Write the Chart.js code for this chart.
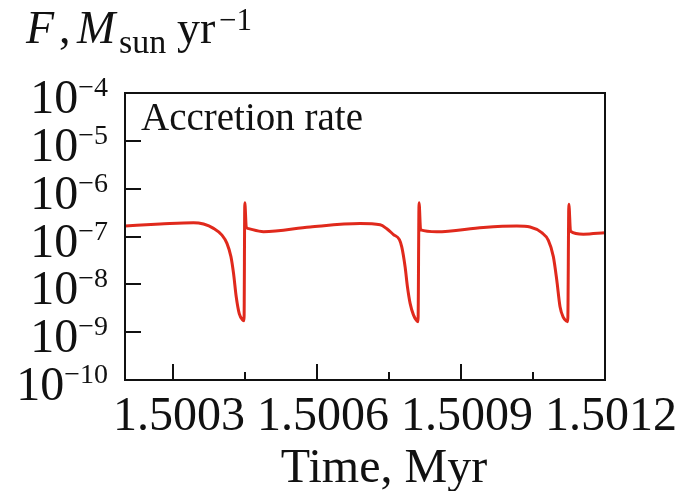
<!DOCTYPE html>
<html>
<head>
<meta charset="utf-8">
<script src="https://cdn.jsdelivr.net/npm/chart.js@4"></script>
<style>
  html, body { margin: 0; padding: 0; background: #fff; }
</style>
</head>
<body>
<canvas id="rateChart" width="681" height="491"></canvas>
<script>
// Time in Myr
const timeMyr = [
    1.5002000, 1.5002735, 1.5003428, 1.5003637, 1.5003845, 1.5004020, 1.5004124, 1.5004207,
    1.5004261, 1.5004317, 1.5004380, 1.5004457, 1.5004480, 1.5004496, 1.5004526, 1.5004553,
    1.5004886, 1.5005858, 1.5006899, 1.5007316, 1.5007455, 1.5007593, 1.5007717, 1.5007767,
    1.5007836, 1.5007884, 1.5007940, 1.5008009, 1.5008076, 1.5008105, 1.5008126, 1.5008159,
    1.5008496, 1.5009466, 1.5010162, 1.5010439, 1.5010682, 1.5010820, 1.5010924, 1.5010995,
    1.5011063, 1.5011132, 1.5011199, 1.5011224, 1.5011247, 1.5011282, 1.5011549, 1.5012000
];

// Accretion rate, Msun/yr
const accretionRate = [
    1.66e-7, 1.82e-7, 1.95e-7, 1.82e-7, 1.48e-7, 1.07e-7, 7.2e-8, 3.8e-8,
    1.7e-8, 5.5e-9, 2.45e-9, 1.78e-9, 1.74e-9, 5.1e-7, 1.58e-7, 1.48e-7,
    1.26e-7, 1.58e-7, 1.86e-7, 1.76e-7, 1.45e-7, 1.10e-7, 8.6e-8, 6.0e-8,
    2.3e-8, 8.9e-9, 4.0e-9, 2.3e-9, 1.74e-9, 1.66e-9, 5.1e-7, 1.38e-7,
    1.26e-7, 1.55e-7, 1.66e-7, 1.58e-7, 1.20e-7, 8.3e-8, 3.8e-8, 1.23e-8,
    3.4e-9, 2.04e-9, 1.70e-9, 1.66e-9, 4.7e-7, 1.29e-7, 1.12e-7, 1.20e-7
];

// Axis ticks
const xMajorTicks = [1.5003, 1.5006, 1.5009, 1.5012];
const xTickLabels = ['1.5003', '1.5006', '1.5009', '1.5012'];
const xMinorTicks = [1.50045, 1.50075, 1.50105];
const yTickExponents = [-4, -5, -6, -7, -8, -9, -10];

const SERIF = "'Liberation Serif', 'DejaVu Serif', serif";
const INK = '#111';

// draws "10" with a raised exponent, right aligned at xRight
function drawPower(ctx, exp, xRight, baseline) {
    const sup = '\u2212' + Math.abs(exp);
    ctx.font = '28px ' + SERIF;
    const supW = ctx.measureText(sup).width;
    ctx.font = '48px ' + SERIF;
    const baseW = ctx.measureText('10').width;
    ctx.textAlign = 'left';
    ctx.fillText('10', xRight - supW - baseW, baseline);
    ctx.font = '28px ' + SERIF;
    ctx.fillText(sup, xRight - supW, baseline - 17);
}

const framePlugin = {
    id: 'framePlugin',
    afterDraw(chart) {
        const ctx = chart.ctx;
        const area = chart.chartArea;
        const xs = chart.scales.x;
        const ys = chart.scales.y;

        ctx.save();
        ctx.strokeStyle = INK;
        ctx.lineWidth = 2;
        ctx.strokeRect(area.left, area.top, area.right - area.left, area.bottom - area.top);

        // inward ticks
        ctx.beginPath();
        yTickExponents.forEach(e => {
            if (e === -4 || e === -10) return;
            const y = Math.round(ys.getPixelForValue(Math.pow(10, e)));
            ctx.moveTo(area.left, y);
            ctx.lineTo(area.left + 16, y);
        });
        xMajorTicks.forEach(v => {
            const x = Math.round(xs.getPixelForValue(v));
            ctx.moveTo(x, area.bottom);
            ctx.lineTo(x, area.bottom - 16);
        });
        xMinorTicks.forEach(v => {
            const x = Math.round(xs.getPixelForValue(v));
            ctx.moveTo(x, area.bottom);
            ctx.lineTo(x, area.bottom - 8);
        });
        ctx.stroke();

        ctx.fillStyle = INK;
        ctx.textBaseline = 'alphabetic';

        // y tick labels
        yTickExponents.forEach(e => {
            const y = ys.getPixelForValue(Math.pow(10, e));
            drawPower(ctx, e, 108, y + 20);
        });

        // x tick labels
        ctx.font = '48px ' + SERIF;
        ctx.textAlign = 'center';
        xMajorTicks.forEach((v, i) => {
            ctx.fillText(xTickLabels[i], xs.getPixelForValue(v) + 6, 430);
        });

        // x axis title
        ctx.fillText('Time, Myr', 384, 482);

        // panel label
        ctx.textAlign = 'left';
        ctx.font = '39px ' + SERIF;
        ctx.fillText('Accretion rate', 141, 130);

        // y axis title: F, M_sun yr^-1
        ctx.font = 'italic 46px ' + SERIF;
        ctx.fillText('F', 26, 43);
        ctx.font = '46px ' + SERIF;
        ctx.fillText(',', 59, 43);
        ctx.font = 'italic 46px ' + SERIF;
        ctx.fillText('M', 77, 43);
        ctx.font = '34px ' + SERIF;
        ctx.fillText('sun', 119, 53);
        ctx.font = '46px ' + SERIF;
        ctx.fillText('yr', 177, 43);
        ctx.font = '31px ' + SERIF;
        ctx.fillText('\u22121', 219, 30);

        ctx.restore();
    }
};

const points = timeMyr.map((t, i) => ({ x: t, y: accretionRate[i] }));

new Chart(document.getElementById('rateChart'), {
    type: 'line',
    data: {
        datasets: [{
            label: 'Accretion rate',
            data: points,
            borderColor: '#e0291c',
            borderWidth: 3,
            pointRadius: 0,
            fill: false,
            cubicInterpolationMode: 'monotone'
        }]
    },
    options: {
        responsive: false,
        animation: false,
        layout: {
            padding: { left: 125, right: 76, top: 93, bottom: 111 }
        },
        scales: {
            x: { type: 'linear', min: 1.5002, max: 1.5012, display: false },
            y: { type: 'logarithmic', min: 1e-10, max: 1e-4, display: false }
        },
        plugins: {
            legend: { display: false },
            tooltip: { enabled: false }
        }
    },
    plugins: [framePlugin]
});
</script>
</body>
</html>
